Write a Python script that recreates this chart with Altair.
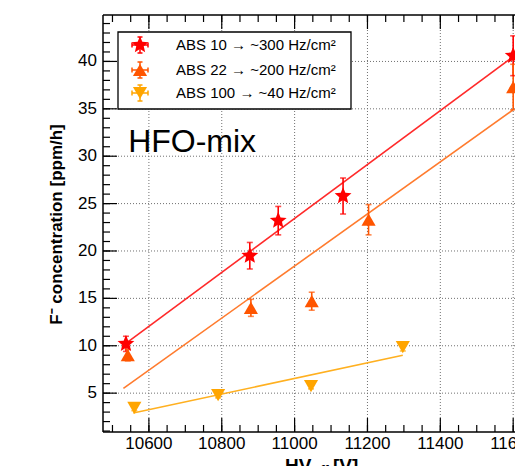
import altair as alt
import pandas as pd

series_names = ["ABS 10 → ~300 Hz/cm²", "ABS 22 → ~200 Hz/cm²", "ABS 100 → ~40 Hz/cm²"]

abs10_hv = [10537, 10877, 10955, 11133, 11600]
abs10_conc = [10.2, 19.5, 23.2, 25.8, 40.6]
abs10_err = [0.8, 1.4, 1.5, 1.9, 2.1]

abs22_hv = [10542, 10880, 11047, 11203, 11600]
abs22_conc = [9.0, 14.0, 14.7, 23.3, 37.3]
abs22_err = [0.6, 0.9, 0.95, 1.6, 2.4]

abs100_hv = [10560, 10790, 11045, 11297]
abs100_conc = [3.45, 4.8, 5.75, 9.85]
abs100_err = [0.3, 0.3, 0.3, 0.4]

fit10_hv = [10535, 11600]
fit10_conc = [10.2, 40.5]
fit22_hv = [10530, 11600]
fit22_conc = [5.5, 34.9]
fit100_hv = [10557, 11297]
fit100_conc = [2.9, 9.0]

x_major = [10600, 10800, 11000, 11200, 11400, 11600]
x_minor = list(range(10500, 11601, 50))
y_major = [5, 10, 15, 20, 25, 30, 35, 40]
y_minor = list(range(1, 45))

marker_colors = ["#ff0000", "#ff5500", "#ffa500"]
line_colors = ["#ff2a2a", "#ff7b2e", "#ffb020"]
STAR = ("M0,-1.25L0.33,-0.45L1.19,-0.39L0.53,0.17L0.73,1.01L0,0.56"
        "L-0.73,1.01L-0.53,0.17L-1.19,-0.39L-0.33,-0.45Z")
shapes = [STAR, "triangle-up", "triangle-down"]

rows = []
for name, hv, c, e in [(series_names[0], abs10_hv, abs10_conc, abs10_err),
                       (series_names[1], abs22_hv, abs22_conc, abs22_err),
                       (series_names[2], abs100_hv, abs100_conc, abs100_err)]:
    for h, v, er in zip(hv, c, e):
        rows.append({"series": name, "hv": h, "conc": v, "lo": v - er, "hi": v + er})
pts = pd.DataFrame(rows)

lrows = []
for name, hv, c in [(series_names[0], fit10_hv, fit10_conc),
                    (series_names[1], fit22_hv, fit22_conc),
                    (series_names[2], fit100_hv, fit100_conc)]:
    for h, v in zip(hv, c):
        lrows.append({"series": name, "hv": h, "conc": v})
fits = pd.DataFrame(lrows)

label_df = pd.DataFrame({"hv": [10543], "conc": [30.45], "label": ["HFO-mix"]})
xmaj_df = pd.DataFrame({"hv": x_major, "lab": [str(v) for v in x_major]})
xmin_df = pd.DataFrame({"hv": x_minor})
ymaj_df = pd.DataFrame({"conc": y_major, "lab": [str(v) for v in y_major]})
ymin_df = pd.DataFrame({"conc": y_minor})
one_df = pd.DataFrame({"k": [0]})
legend_df = pd.DataFrame({"series": series_names})

FONT = "Liberation Sans"
W, H = 412, 417
MAJ, MIN = 14, 7

xs = alt.Scale(domain=[10474, 11605], nice=False, zero=False)
ys = alt.Scale(domain=[0.9, 44.9], nice=False, zero=False)

color_scale = alt.Scale(domain=series_names, range=marker_colors)
stroke_scale = alt.Scale(domain=series_names, range=line_colors)
shape_scale = alt.Scale(domain=series_names, range=shapes)


def X(field="hv:Q"):
    return alt.X(field, scale=xs, axis=None)


def Y(field="conc:Q"):
    return alt.Y(field, scale=ys, axis=None)


def C():
    return alt.Color("series:N", scale=color_scale, legend=None)


def S():
    return alt.Shape("series:N", scale=shape_scale, legend=None)


layers = []

# grid
grid_style = dict(color="#707070", strokeWidth=1, strokeDash=[1, 2])
layers.append(alt.Chart(xmaj_df).mark_rule(**grid_style).encode(
    x=X(), y=alt.value(0), y2=alt.value(H)))
layers.append(alt.Chart(ymaj_df).mark_rule(**grid_style).encode(
    y=Y(), x=alt.value(0), x2=alt.value(W)))

# frame (left, bottom, top)
frame_style = dict(color="black", strokeWidth=1.5)
layers.append(alt.Chart(one_df).mark_rule(**frame_style).encode(
    x=alt.value(0), y=alt.value(0), y2=alt.value(H)))
layers.append(alt.Chart(one_df).mark_rule(**frame_style).encode(
    x=alt.value(0), x2=alt.value(W), y=alt.value(H)))
layers.append(alt.Chart(one_df).mark_rule(**frame_style).encode(
    x=alt.value(0), x2=alt.value(W), y=alt.value(0)))

# ticks (inward)
tick_style = dict(color="black", strokeWidth=1.2)
for df, y0, y1 in [(xmaj_df, H, H - MAJ), (xmin_df, H, H - MIN), (xmaj_df, 0, MAJ), (xmin_df, 0, MIN)]:
    layers.append(alt.Chart(df).mark_rule(**tick_style).encode(
        x=X(), y=alt.value(y0), y2=alt.value(y1)))
for df, ln in [(ymaj_df, MAJ), (ymin_df, MIN)]:
    layers.append(alt.Chart(df).mark_rule(**tick_style).encode(
        y=Y(), x=alt.value(0), x2=alt.value(ln)))

# tick labels
layers.append(alt.Chart(xmaj_df).mark_text(font=FONT, fontSize=17, baseline="middle",
                                           align="center", color="black").encode(
    x=X(), y=alt.value(H + 12), text="lab:N"))
layers.append(alt.Chart(ymaj_df).mark_text(font=FONT, fontSize=17, baseline="middle",
                                           align="right", color="black").encode(
    y=Y(), x=alt.value(-6), text="lab:N"))

# axis titles
layers.append(alt.Chart(one_df).mark_text(font=FONT, fontSize=17, fontWeight="bold",
                                          angle=270, align="center", baseline="middle",
                                          color="black", text="F⁻ concentration [ppm/h]").encode(
    x=alt.value(-46), y=alt.value(H / 2 + 1)))
for txt, xpx, ypx, fs in [("HV", 182, 442, 19), ("eff", 211, 450, 12), ("[V]", 230, 442, 19)]:
    layers.append(alt.Chart(one_df).mark_text(font=FONT, fontSize=fs, fontWeight="bold",
                                              align="left", baseline="top", color="black",
                                              text=txt).encode(
        x=alt.value(xpx), y=alt.value(ypx)))

# fit lines
layers.append(alt.Chart(fits).mark_line(strokeWidth=1.6).encode(
    x=X(), y=Y(), stroke=alt.Stroke("series:N", scale=stroke_scale, legend=None),
    detail="series:N"))

# error bars
layers.append(alt.Chart(pts).mark_rule(strokeWidth=1.6).encode(
    x=X(), y=Y("lo:Q"), y2="hi:Q", color=C()))
for f in ["lo:Q", "hi:Q"]:
    layers.append(alt.Chart(pts).mark_tick(orient="horizontal", size=6, thickness=1.6).encode(
        x=X(), y=Y(f), color=C()))

# points
layers.append(alt.Chart(pts).mark_point(filled=True, opacity=1, size=200).encode(
    x=X(), y=Y(), color=C(), shape=S()))

# annotation
layers.append(alt.Chart(label_df).mark_text(align="left", baseline="alphabetic", fontSize=32,
                                            font=FONT, color="black").encode(
    x=X(), y=Y(), text="label:N"))

# legend
LEG_BOX = (15, 248, 17, 94)
legend_rows_y = [30, 55, 78]
LEG_SYM_X, LEG_TXT_X, ARM, CAP = 37, 73, 8, 2.5
layers.append(alt.Chart(one_df).mark_rect(fill="white", stroke="black", strokeWidth=1.3).encode(
    x=alt.value(LEG_BOX[0]), x2=alt.value(LEG_BOX[1]),
    y=alt.value(LEG_BOX[2]), y2=alt.value(LEG_BOX[3])))
for i, yy in enumerate(legend_rows_y):
    d = legend_df.iloc[[i]]
    sx = LEG_SYM_X
    segs = [
        (sx, sx, yy - ARM, yy + ARM),
        (sx - ARM, sx + ARM, yy, yy),
        (sx - CAP, sx + CAP, yy - ARM, yy - ARM),
        (sx - CAP, sx + CAP, yy + ARM, yy + ARM),
        (sx - ARM, sx - ARM, yy - CAP, yy + CAP),
        (sx + ARM, sx + ARM, yy - CAP, yy + CAP),
    ]
    for x0, x1, y0, y1 in segs:
        layers.append(alt.Chart(d).mark_rule(strokeWidth=1.5).encode(
            x=alt.value(x0), x2=alt.value(x1), y=alt.value(y0), y2=alt.value(y1), color=C()))
    layers.append(alt.Chart(d).mark_point(filled=True, opacity=1, size=200).encode(
        x=alt.value(sx), y=alt.value(yy), color=C(), shape=S()))
    layers.append(alt.Chart(d).mark_text(font=FONT, fontSize=15, align="left", baseline="middle",
                                         color="black").encode(
        x=alt.value(LEG_TXT_X), y=alt.value(yy), text="series:N"))

chart = alt.layer(*layers).properties(
    width=W, height=H,
    padding={"left": 95, "top": 7, "right": 0, "bottom": 34},
    autosize=alt.AutoSizeParams(type="none"),
    background="white",
).configure_view(stroke=None)

chart.save("out.html", embed_options={"renderer": "svg", "actions": False})
